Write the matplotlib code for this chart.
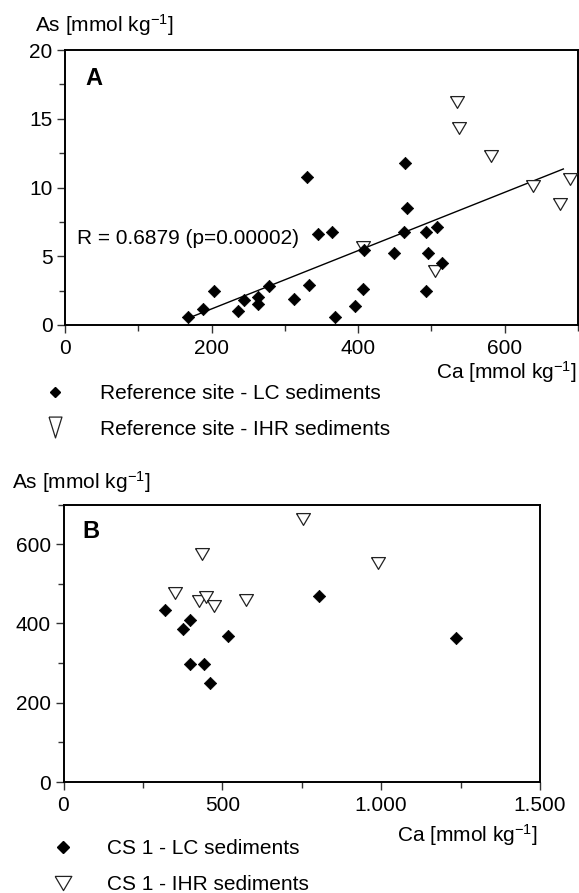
import numpy as np
import matplotlib
matplotlib.use("Agg")
import matplotlib.pyplot as plt
from matplotlib.lines import Line2D
from matplotlib.ticker import MultipleLocator, FuncFormatter

plt.rcParams['font.family'] = ['Liberation Sans', 'DejaVu Sans']
plt.rcParams['mathtext.fontset'] = 'custom'
plt.rcParams['mathtext.rm'] = 'Liberation Sans'
plt.rcParams['mathtext.it'] = 'Liberation Sans:italic'
plt.rcParams['mathtext.bf'] = 'Liberation Sans:bold'

# ---------------- data: panel A (reference site) ----------------
a_lc_ca = [168, 188, 203, 236, 244, 264, 264, 278, 313, 330, 333, 345, 365,
           368, 396, 406, 408, 449, 464, 467, 463, 492, 492, 495, 508, 515]
a_lc_as = [0.6, 1.2, 2.45, 1.0, 1.8, 2.05, 1.5, 2.85, 1.9, 10.75, 2.9, 6.6, 6.8,
           0.55, 1.4, 2.65, 5.45, 5.25, 11.8, 8.5, 6.8, 6.8, 2.5, 5.25, 7.1, 4.5]
a_ihr_ca = [535, 538, 581, 638, 689, 675, 407, 505]
a_ihr_as = [16.2, 14.35, 12.3, 10.1, 10.6, 8.8, 5.7, 3.9]

# ---------------- data: panel B (CS 1) ----------------
b_lc_ca = [320, 376, 399, 399, 443, 461, 519, 804, 1236]
b_lc_as = [434, 387, 408, 298, 298, 249, 369, 469, 363]
b_ihr_ca = [351, 428, 448, 475, 575, 435, 753, 991]
b_ihr_as = [477, 456, 466, 443, 458, 574, 664, 553]

r_text = "R = 0.6879 (p=0.00002)"
unit = r"[mmol kg$^{-1}$]"
leg_a = ["Reference site - LC sediments", "Reference site - IHR sediments"]
leg_b = ["CS 1 - LC sediments", "CS 1 - IHR sediments"]

W, H = 579, 893
fig = plt.figure(figsize=(W / 100, H / 100), dpi=100)

def fx(px):
    return px / W

def fy(py):
    return 1 - py / H

tri = [(-1, 0.85), (1, 0.85), (0, -0.85), (-1, 0.85)]
tri_tall = [(-0.62, 1), (0.62, 1), (0, -1), (-0.62, 1)]
FS = 15

def style_axes(ax):
    for s in ax.spines.values():
        s.set_linewidth(1.4)
        s.set_color('black')
    ax.tick_params(axis='both', which='major', length=6, width=1.0,
                   labelsize=FS, pad=3, direction='out', color='#333333')
    ax.tick_params(axis='both', which='minor', length=4, width=1.0,
                   direction='out', color='#333333')
    ax.tick_params(axis='x', which='major', pad=4)

def plot_points(ax, lc_x, lc_y, ihr_x, ihr_y):
    ax.scatter(ihr_x, ihr_y, marker=tri, s=10.0 ** 2, facecolor='white',
               edgecolor='#222222', linewidths=0.9, zorder=3)
    ax.scatter(lc_x, lc_y, marker='D', s=6.3 ** 2, facecolor='black',
               edgecolor='black', linewidths=0.5, zorder=4)

# ---------------- panel A ----------------
axA = fig.add_axes([fx(65), fy(325), fx(578) - fx(65), fy(50) - fy(325)])
plot_points(axA, a_lc_ca, a_lc_as, a_ihr_ca, a_ihr_as)
all_ca = np.array(a_lc_ca + a_ihr_ca, dtype=float)
all_as = np.array(a_lc_as + a_ihr_as, dtype=float)
slope, intercept = np.polyfit(all_ca, all_as, 1)
xl = np.array([all_ca.min() + 7, all_ca.max() - 9])
axA.plot(xl, slope * xl + intercept, color='black', lw=1.0, zorder=2)
axA.set_xlim(0, 700)
axA.set_ylim(0, 20)
axA.xaxis.set_major_locator(MultipleLocator(200))
axA.xaxis.set_minor_locator(MultipleLocator(100))
axA.yaxis.set_major_locator(MultipleLocator(5))
axA.yaxis.set_minor_locator(MultipleLocator(2.5))
style_axes(axA)
axA.text((85 - 65) / 513, 1 - (78.5 - 50) / 275, "A", transform=axA.transAxes,
         fontsize=17, fontweight='bold', ha='left', va='center')
axA.text((77 - 65) / 513, 1 - (239 - 50) / 275, r_text,
         transform=axA.transAxes, fontsize=FS, ha='left', va='center')

fig.text(fx(35), fy(25), "As " + unit, fontsize=FS, ha='left', va='center')
fig.text(fx(577), fy(372), "Ca " + unit, fontsize=FS, ha='right', va='center')

hA = [Line2D([], [], ls='none', marker='D', ms=5.2, mfc='black', mec='black'),
      Line2D([], [], ls='none', marker=tri_tall, ms=15, mfc='white',
             mec='#222222', mew=0.9)]
fig.legend(hA, leg_a, loc='upper left', bbox_to_anchor=(fx(44.6), fy(384)),
           frameon=False, fontsize=FS, handlelength=1.0, handletextpad=1.66,
           labelspacing=0.8, borderpad=0, borderaxespad=0)

# ---------------- panel B ----------------
axB = fig.add_axes([fx(63.5), fy(782), fx(540) - fx(63.5), fy(504.5) - fy(782)])
plot_points(axB, b_lc_ca, b_lc_as, b_ihr_ca, b_ihr_as)
axB.set_xlim(0, 1500)
axB.set_ylim(0, 700)
axB.xaxis.set_major_locator(MultipleLocator(500))
axB.xaxis.set_minor_locator(MultipleLocator(250))
axB.yaxis.set_major_locator(MultipleLocator(200))
axB.yaxis.set_minor_locator(MultipleLocator(100))
axB.xaxis.set_major_formatter(FuncFormatter(lambda v, p: f"{int(v):,}".replace(",", ".")))
style_axes(axB)
axB.text((82 - 63.5) / 476.5, 1 - (531.5 - 504.5) / 277.5, "B",
         transform=axB.transAxes, fontsize=17, fontweight='bold',
         ha='left', va='center')

fig.text(fx(12), fy(482), "As " + unit, fontsize=FS, ha='left', va='center')
fig.text(fx(538), fy(835), "Ca " + unit, fontsize=FS, ha='right', va='center')

hB = [Line2D([], [], ls='none', marker='D', ms=6.0, mfc='black', mec='black'),
      Line2D([], [], ls='none', marker=tri, ms=12, mfc='white',
             mec='#222222', mew=0.9)]
fig.legend(hB, leg_b, loc='upper left', bbox_to_anchor=(fx(52.6), fy(839.5)),
           frameon=False, fontsize=FS, handlelength=1.0, handletextpad=1.61,
           labelspacing=0.8, borderpad=0, borderaxespad=0)

fig.savefig("out.png", dpi=100)
